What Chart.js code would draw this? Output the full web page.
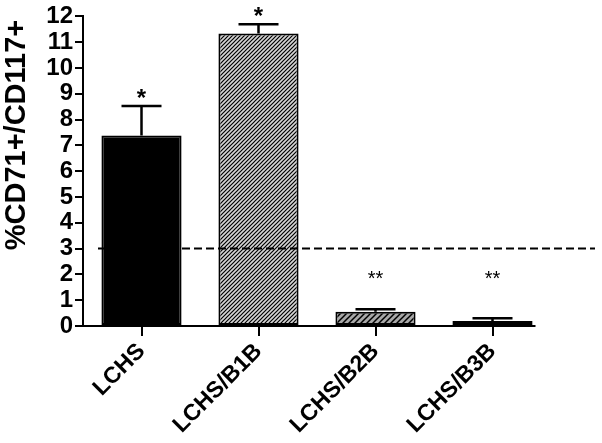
<!DOCTYPE html>
<html>
<head>
<meta charset="utf-8">
<script src="https://cdn.jsdelivr.net/npm/chart.js@4/dist/chart.umd.min.js"></script>
<style>
  html, body { margin: 0; padding: 0; background: #fff; }
  #wrap { width: 602px; height: 443px; }
</style>
</head>
<body>
<div id="wrap"><canvas id="c"></canvas></div>
<script>
// values
const categories = ['LCHS', 'LCHS/B1B', 'LCHS/B2B', 'LCHS/B3B'];
const means = [7.38, 11.34, 0.55, 0.19];
const sem = [1.15, 0.36, 0.10, 0.11];
const stars = ['*', '*', '**', '**'];
const starLevel = [8.95, 12.1, 1.95, 1.95];
const threshold = 3;
const yTicks = [0, 1, 2, 3, 4, 5, 6, 7, 8, 9, 10, 11, 12];
const yTitle = '%CD71+/CD117+';

const FONT = "'Liberation Sans', Arial, Helvetica, sans-serif";

function hatch(bg, gap, lw) {
    const c = document.createElement('canvas');
    c.width = gap; c.height = gap;
    const x = c.getContext('2d');
    x.fillStyle = bg;
    x.fillRect(0, 0, gap, gap);
    x.strokeStyle = '#000';
    x.lineWidth = lw;
    x.beginPath();
    x.moveTo(0, gap); x.lineTo(gap, 0);
    x.moveTo(-1, 1); x.lineTo(1, -1);
    x.moveTo(gap - 1, gap + 1); x.lineTo(gap + 1, gap - 1);
    x.stroke();
    return x.createPattern(c, 'repeat');
}

const fills = ['#000', hatch('#d6d6d6', 4, 1.2), hatch('#a8a8a8', 6, 1.5), '#000'];

// error bars, asterisks, dashed cut-off line, x axis line, y title
const extras = {
    id: 'extras',
    afterDatasetsDraw(chart) {
        const ctx = chart.ctx;
        const ys = chart.scales.y;
        const area = chart.chartArea;
        const bars = chart.getDatasetMeta(0).data;
        ctx.save();

        // x axis line
        ctx.strokeStyle = '#000';
        ctx.lineWidth = 2;
        ctx.beginPath();
        ctx.moveTo(area.left, ys.getPixelForValue(0));
        ctx.lineTo(bars[bars.length - 1].x + 43, ys.getPixelForValue(0));
        ctx.stroke();

        // dashed threshold
        ctx.setLineDash([8, 4]);
        ctx.beginPath();
        ctx.moveTo(area.left + 15, ys.getPixelForValue(threshold));
        ctx.lineTo(chart.width - 7, ys.getPixelForValue(threshold));
        ctx.stroke();
        ctx.setLineDash([]);

        ctx.lineWidth = 2.5;
        for (let i = 0; i < bars.length; i++) {
            const x = bars[i].x;
            const y0 = ys.getPixelForValue(means[i]);
            const y1 = ys.getPixelForValue(means[i] + sem[i]);
            ctx.beginPath();
            ctx.moveTo(x, y0);
            ctx.lineTo(x, y1);
            ctx.moveTo(x - 20, y1);
            ctx.lineTo(x + 20, y1);
            ctx.stroke();

            ctx.fillStyle = '#000';
            ctx.textAlign = 'center';
            ctx.textBaseline = 'middle';
            ctx.font = stars[i].length > 1 ? '20px ' + FONT : 'bold 24px ' + FONT;
            ctx.fillText(stars[i], x, ys.getPixelForValue(starLevel[i]) + 4);
        }

        // y axis title
        ctx.translate(17, 135);
        ctx.rotate(-Math.PI / 2);
        ctx.font = 'bold 29px ' + FONT;
        ctx.textAlign = 'center';
        ctx.textBaseline = 'middle';
        ctx.fillText(yTitle, 0, 0);
        ctx.restore();
    }
};

new Chart(document.getElementById('c'), {
    type: 'bar',
    data: {
        labels: categories,
        datasets: [{
            data: means,
            backgroundColor: fills,
            borderColor: '#000',
            borderWidth: 2,
            borderSkipped: false,
            barPercentage: 0.685,
            categoryPercentage: 1
        }]
    },
    options: {
        responsive: true,
        maintainAspectRatio: false,
        animation: false,
        layout: { padding: { top: 16, right: 51, left: 0, bottom: 0 } },
        plugins: {
            legend: { display: false },
            tooltip: { enabled: false }
        },
        scales: {
            x: {
                afterFit: (s) => { s.height = 117; },
                border: { display: false },
                grid: {
                    offset: false,
                    drawOnChartArea: false,
                    drawTicks: true,
                    tickLength: 10,
                    color: '#000',
                    lineWidth: 2
                },
                ticks: {
                    color: '#000',
                    minRotation: 45,
                    maxRotation: 45,
                    padding: 2,
                    font: { family: FONT, size: 23, weight: 'bold' }
                }
            },
            y: {
                min: 0,
                max: 12,
                afterFit: (s) => { s.width = 83; },
                afterBuildTicks: (s) => { s.ticks = yTicks.map(v => ({ value: v })); },
                border: { display: true, color: '#000', width: 2 },
                grid: {
                    drawOnChartArea: false,
                    drawTicks: true,
                    tickLength: 8,
                    color: '#000',
                    lineWidth: 2
                },
                ticks: {
                    color: '#000',
                    autoSkip: false,
                    padding: 2,
                    font: { family: FONT, size: 24, weight: 'bold' }
                }
            }
        }
    },
    plugins: [extras]
});
</script>
</body>
</html>
